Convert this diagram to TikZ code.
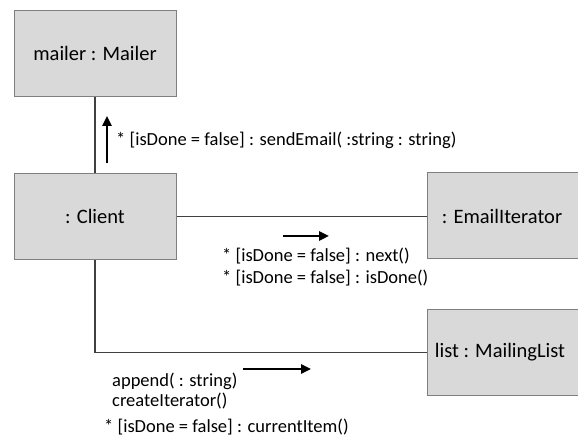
\documentclass[tikz,border=0pt]{standalone}
\usepackage{fontspec}
\setmainfont{Carlito}
\usetikzlibrary{arrows.meta, positioning}
\definecolor{boxFill}{HTML}{D9D9D9}
\definecolor{boxLine}{HTML}{7F7F7F}
\definecolor{linkLine}{HTML}{404040}

\begin{document}
\begin{tikzpicture}[x=1pt, y=1pt,
  obj/.style={draw=boxLine, line width=1pt, fill=boxFill, minimum width=162pt, minimum height=86pt, font=\fontsize{20.5}{24}\selectfont},
  link/.style={draw=linkLine, line width=1.2pt},
  msg/.style={-{Triangle[length=10pt, width=9pt]}, line width=2.4pt, black},
  lbl/.style={anchor=west, inner sep=0pt, font=\fontsize{18.5}{22}\selectfont}]
\useasboundingbox (0,0) rectangle (578,443);
\clip (0,0) rectangle (578,443);
  % objects
  \node[obj] (mailer) at (95, 389.5) {mailer : Mailer};
  \node[obj] (client) at (95, 226.5) {: Client};
  \node[obj] (iter) at (508, 227) {\hspace*{-12pt}: EmailIterator};
  \node[obj] (list) at (508, 90.5) {\hspace*{-16pt}list : MailingList};
  % links
  \draw[link] (mailer.south) -- (client.north);
  \draw[link] (client.east) -- (client.east -| iter.west);
  \draw[link] (client.south) |- (list.west);
  % messages
  \coordinate (m1a) at (107, 280);
  \coordinate (m1b) at (107, 327);
  \draw[msg] (m1a) -- (m1b);
  \node[lbl] (sendlbl) at (116, 303) {* [isDone = false] : sendEmail( :string : string)};
  \coordinate (m2a) at (283, 207);
  \coordinate (m2b) at (329, 207);
  \draw[msg] (m2a) -- (m2b);
  \node[lbl] (nextlbl) at (222, 187) {* [isDone = false] : next()};
  \node[lbl] (donelbl) at (222, 165) {* [isDone = false] : isDone()};
  \coordinate (m3a) at (243, 74);
  \coordinate (m3b) at (311, 74);
  \draw[msg] (m3a) -- (m3b);
  \node[lbl] (appendlbl) at (112, 62) {append( : string)};
  \node[lbl] (createlbl) at (112, 42) {createIterator()};
  \node[lbl] (itemlbl) at (104, 16) {* [isDone = false] : currentItem()};
\end{tikzpicture}
\end{document}
